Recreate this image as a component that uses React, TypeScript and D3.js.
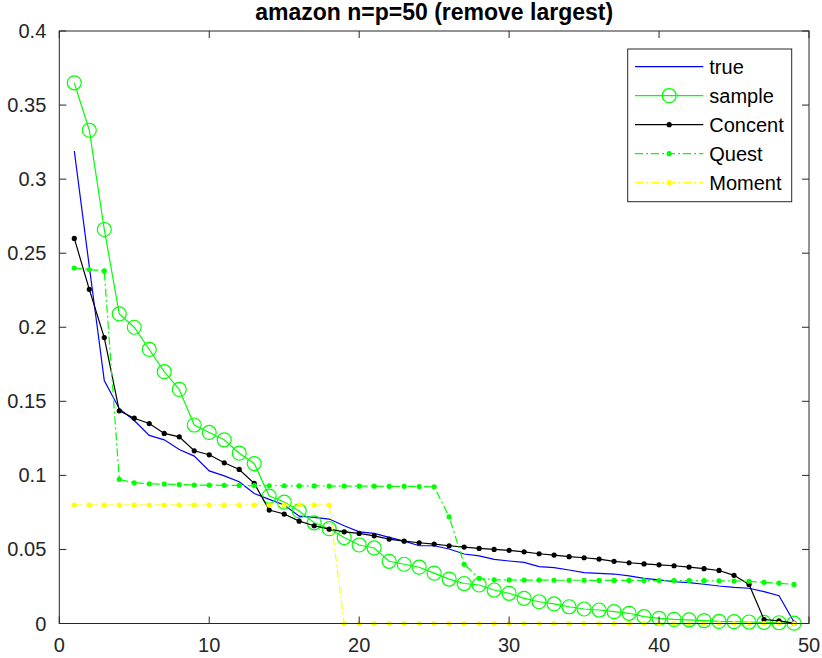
import * as d3 from "d3";

const xs = d3.range(1, 50);

const trueVals = [
  0.319, 0.241, 0.164, 0.145, 0.137, 0.127, 0.124, 0.1175, 0.113, 0.103,
  0.0997, 0.0957, 0.0878, 0.0838, 0.08, 0.0725, 0.0716, 0.0705, 0.066, 0.0619,
  0.0608, 0.0581, 0.0556, 0.0525, 0.0525, 0.0503, 0.0469, 0.0456, 0.0433, 0.0422,
  0.0413, 0.0384, 0.0377, 0.0361, 0.0343, 0.0339, 0.0334, 0.0321, 0.0305, 0.0294,
  0.0282, 0.0276, 0.0265, 0.0253, 0.0244, 0.0238, 0.0215, 0.0188, 0.001,
];

const sampleVals = [
  0.365, 0.333, 0.266, 0.209, 0.2, 0.185, 0.17, 0.158, 0.134, 0.129,
  0.124, 0.115, 0.108, 0.086, 0.082, 0.076, 0.068, 0.064, 0.058, 0.053,
  0.051, 0.042, 0.04, 0.038, 0.034, 0.03, 0.027, 0.026, 0.0226, 0.0204,
  0.017, 0.0147, 0.0132, 0.0113, 0.0098, 0.0091, 0.008, 0.0069, 0.0046, 0.0035,
  0.0028, 0.0025, 0.002, 0.0014, 0.0012, 0.001, 0.0008, 0.0005, 0.0002,
];

const concentVals = [
  0.26, 0.2256, 0.193, 0.1436, 0.1386, 0.135, 0.1283, 0.126, 0.1166, 0.1139,
  0.1085, 0.104, 0.0946, 0.0766, 0.0739, 0.0691, 0.066, 0.0637, 0.0619, 0.0608,
  0.0592, 0.057, 0.0556, 0.0545, 0.0536, 0.0525, 0.0516, 0.0507, 0.05, 0.0494,
  0.0484, 0.0471, 0.0462, 0.0451, 0.0444, 0.0435, 0.042, 0.041, 0.0402, 0.0396,
  0.039, 0.0381, 0.037, 0.0358, 0.0325, 0.0264, 0.0027, 0.0018, 0.0002,
];

const questVals = [
  0.24, 0.239, 0.238, 0.0973, 0.095, 0.0943, 0.0941, 0.0938, 0.0935, 0.0934,
  0.0933, 0.0932, 0.0931, 0.093, 0.093, 0.0929, 0.0929, 0.0928, 0.0928, 0.0927,
  0.0927, 0.0926, 0.0926, 0.0925, 0.0923, 0.072, 0.04, 0.0305, 0.0295, 0.0294,
  0.0293, 0.0293, 0.0292, 0.0292, 0.0292, 0.0291, 0.0291, 0.0291, 0.029, 0.029,
  0.029, 0.029, 0.0289, 0.0288, 0.0287, 0.0285, 0.0278, 0.0272, 0.0264,
];

const momentVals = [
  0.08, 0.08, 0.08, 0.08, 0.08, 0.08, 0.08, 0.08, 0.08, 0.08,
  0.08, 0.08, 0.08, 0.08, 0.08, 0.08, 0.08, 0.08, 0, 0,
  0, 0, 0, 0, 0, 0, 0, 0, 0, 0,
  0, 0, 0, 0, 0, 0, 0, 0, 0, 0,
  0, 0, 0, 0, 0, 0, 0, 0, 0,
];

const xTicks = [0, 10, 20, 30, 40, 50];
const yTicks = [0, 0.05, 0.1, 0.15, 0.2, 0.25, 0.3, 0.35, 0.4];

type Marker = "none" | "circle" | "dot";
interface Series {
  name: string;
  values: number[];
  color: string;
  dash?: string;
  marker: Marker;
}

const series: Series[] = [
  { name: "true", values: trueVals, color: "#0000ff", marker: "none" },
  { name: "sample", values: sampleVals, color: "#00ff00", marker: "circle" },
  { name: "Concent", values: concentVals, color: "#000000", marker: "dot" },
  { name: "Quest", values: questVals, color: "#00ff00", dash: "8,3,2,3", marker: "dot" },
  { name: "Moment", values: momentVals, color: "#ffff00", dash: "8,3,2,3", marker: "dot" },
];

const W = 822;
const H = 658;
const margin = { top: 31, right: 13, bottom: 34.5, left: 59.3 };
const axisColor = "#262626";
const font = "'Liberation Sans', Arial, Helvetica, sans-serif";

function MarkerShape({ kind, color, cx, cy }: { kind: Marker; color: string; cx: number; cy: number }) {
  if (kind === "circle")
    return <circle cx={cx} cy={cy} r={7} fill="none" stroke={color} strokeWidth={1.2} />;
  if (kind === "dot") return <circle cx={cx} cy={cy} r={2.6} fill={color} />;
  return null;
}

export default function App() {
  const innerW = W - margin.left - margin.right;
  const innerH = H - margin.top - margin.bottom;
  const x = d3.scaleLinear().domain([0, 50]).range([margin.left, margin.left + innerW]);
  const y = d3.scaleLinear().domain([0, 0.4]).range([margin.top + innerH, margin.top]);
  const line = d3
    .line<number>()
    .x((_, i) => x(xs[i]))
    .y((d) => y(d));

  const x0 = x(0);
  const x1 = x(50);
  const y0 = y(0);
  const y1 = y(0.4);
  const tickLen = 7;

  // legend box
  const lg = { x: 627.7, y: 49, w: 164, h: 152.7 };
  const rowH = 29;

  return (
    <svg
      width={W}
      height={H}
      style={{ position: "absolute", left: 0, top: 0, background: "#fff" }}
      fontFamily={font}
    >
      <rect x={0} y={0} width={W} height={H} fill="#fff" />
      <text
        x={(x0 + x1) / 2}
        y={20}
        textAnchor="middle"
        fontSize={23}
        fontWeight="bold"
        fill="#000"
      >
        amazon n=p=50 (remove largest)
      </text>

      {/* series */}
      <g>
        {series.map((s) => (
          <g key={s.name}>
            <path
              d={line(s.values) ?? ""}
              fill="none"
              stroke={s.color}
              strokeWidth={1.2}
              strokeDasharray={s.dash}
            />
            {s.values.map((v, i) => (
              <MarkerShape key={i} kind={s.marker} color={s.color} cx={x(xs[i])} cy={y(v)} />
            ))}
          </g>
        ))}
      </g>

      {/* axes box */}
      <rect x={x0} y={y1} width={x1 - x0} height={y0 - y1} fill="none" stroke={axisColor} strokeWidth={1} />
      {xTicks.map((t) => (
        <g key={`x${t}`}>
          <line x1={x(t)} x2={x(t)} y1={y0} y2={y0 - tickLen} stroke={axisColor} />
          <line x1={x(t)} x2={x(t)} y1={y1} y2={y1 + tickLen} stroke={axisColor} />
          <text x={x(t)} y={y0 + 28} textAnchor="middle" fontSize={20} fill={axisColor}>
            {t}
          </text>
        </g>
      ))}
      {yTicks.map((t) => (
        <g key={`y${t}`}>
          <line x1={x0} x2={x0 + tickLen} y1={y(t)} y2={y(t)} stroke={axisColor} />
          <line x1={x1} x2={x1 - tickLen} y1={y(t)} y2={y(t)} stroke={axisColor} />
          <text x={x0 - 13} y={y(t) + 7} textAnchor="end" fontSize={20} fill={axisColor}>
            {d3.format("")(t)}
          </text>
        </g>
      ))}

      {/* legend */}
      <g>
        <rect x={lg.x} y={lg.y} width={lg.w} height={lg.h} fill="#fff" stroke={axisColor} strokeWidth={1} />
        {series.map((s, i) => {
          const cy = lg.y + 17.7 + i * rowH;
          return (
            <g key={s.name}>
              <line
                x1={635}
                x2={703.3}
                y1={cy}
                y2={cy}
                stroke={s.color}
                strokeWidth={1.2}
                strokeDasharray={s.dash}
              />
              <MarkerShape kind={s.marker} color={s.color} cx={669.2} cy={cy} />
              <text x={709.3} y={cy + 7} fontSize={20} fill="#000">
                {s.name}
              </text>
            </g>
          );
        })}
      </g>
    </svg>
  );
}
